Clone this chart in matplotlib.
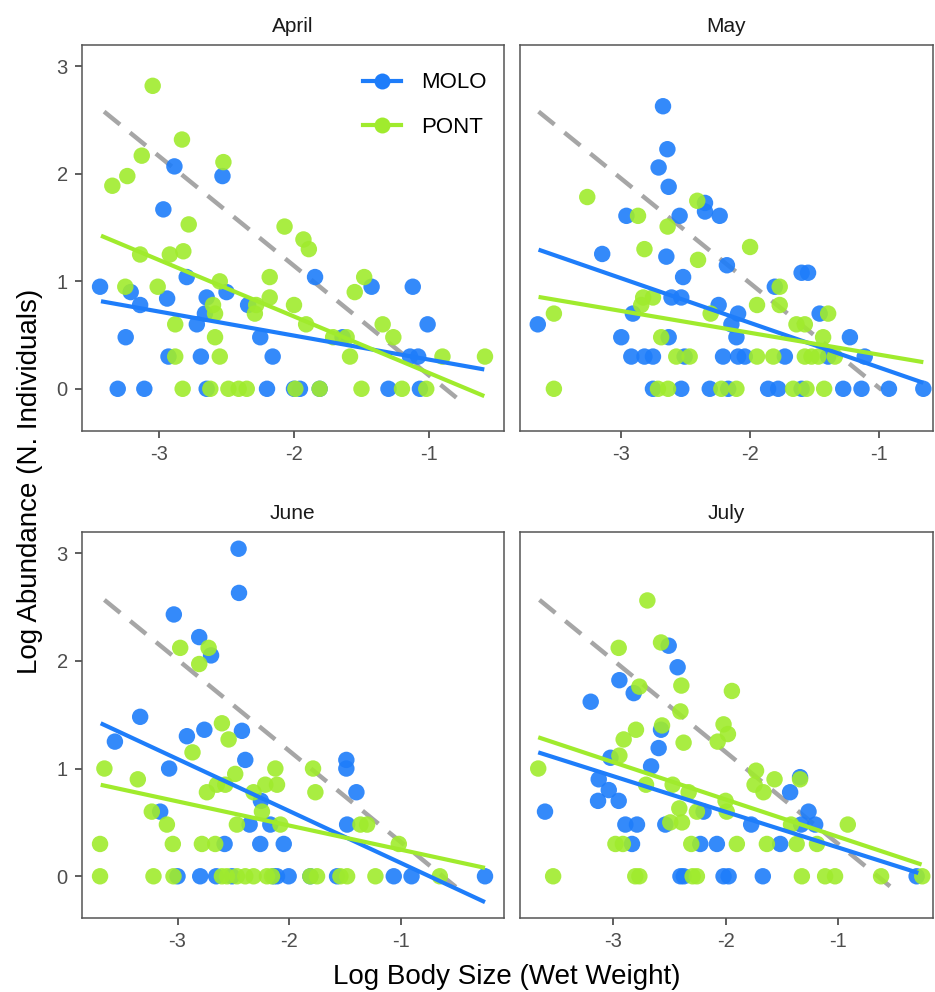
import matplotlib
matplotlib.use("Agg")
import matplotlib.pyplot as plt
from matplotlib.lines import Line2D

plt.rcParams['font.family'] = ['Liberation Sans', 'DejaVu Sans']

months = ["April", "May", "June", "July"]
sites = ["MOLO", "PONT"]
colors = {"MOLO": "#1E7DFA", "PONT": "#A0EB2D"}
ref_color = "#A6A6A6"

# ---------------- data (log body size, log abundance) ----------------
april_molo_x = [-2.886, -2.53, -2.968, -3.437, -3.21, -3.14, -2.94, -2.795, -2.647, -2.66, -2.5, -2.72,
                -3.247, -2.34, -2.25, -1.844, -1.64, -1.425, -1.12, -1.01, -2.93, -2.69, -2.158, -1.14,
                -1.08, -3.306, -3.109, -2.647, -2.2, -2.0, -1.956, -1.81, -1.30, -1.067]
april_molo_y = [2.07, 1.98, 1.67, 0.95, 0.90, 0.78, 0.84, 1.04, 0.85, 0.70, 0.90, 0.60,
                0.48, 0.78, 0.48, 1.04, 0.48, 0.95, 0.95, 0.60, 0.30, 0.30, 0.30, 0.30,
                0.30, 0, 0, 0, 0, 0, 0, 0, 0, 0]
april_pont_x = [-3.047, -3.346, -3.235, -3.128, -2.83, -2.523, -2.78, -3.14, -2.92, -2.82, -3.25, -3.01,
                -2.55, -2.6, -2.585, -2.88, -2.585, -2.88, -2.55, -2.07, -1.93, -1.89, -2.18, -2.18,
                -2.28, -2.29, -2.0, -1.91, -1.71, -1.61, -1.585, -1.48, -1.55, -1.343, -1.264, -0.9,
                -0.585, -2.825, -2.62, -2.486, -2.41, -2.35, -1.99, -1.81, -1.5, -1.2, -1.02]
april_pont_y = [2.82, 1.89, 1.98, 2.17, 2.32, 2.11, 1.53, 1.25, 1.25, 1.28, 0.95, 0.95,
                1.0, 0.78, 0.70, 0.60, 0.48, 0.30, 0.30, 1.51, 1.39, 1.30, 1.04, 0.85,
                0.78, 0.70, 0.78, 0.60, 0.48, 0.48, 0.30, 1.04, 0.90, 0.60, 0.48, 0.30,
                0.30, 0, 0, 0, 0, 0, 0, 0, 0, 0, 0]

may_molo_x = [-2.676, -2.642, -2.71, -2.632, -2.96, -2.547, -2.35, -2.35, -2.236, -3.148, -2.65, -2.52,
              -2.18, -2.61, -2.534, -2.244, -2.093, -2.145, -2.106, -2.91, -3.648, -3.0, -2.632, -1.808,
              -1.6, -1.55, -1.46, -1.225, -1.11, -2.922, -2.82, -2.754, -2.508, -2.21, -2.093, -2.041,
              -1.73, -1.394, -2.754, -2.534, -2.313, -2.17, -1.86, -1.782, -1.60, -1.277, -1.135,
              -0.922, -0.655]
may_molo_y = [2.63, 2.23, 2.06, 1.88, 1.61, 1.61, 1.73, 1.65, 1.61, 1.255, 1.23, 1.04,
              1.15, 0.85, 0.85, 0.78, 0.70, 0.60, 0.48, 0.70, 0.60, 0.48, 0.48, 0.95,
              1.08, 1.08, 0.70, 0.48, 0.30, 0.30, 0.30, 0.30, 0.30, 0.30, 0.30, 0.30,
              0.30, 0.30, 0, 0, 0, 0, 0, 0, 0, 0, 0, 0, 0]
may_pont_x = [-3.264, -2.87, -2.41, -2.64, -2.82, -2.404, -2.0, -2.83, -2.754, -2.845, -3.523, -2.306,
              -1.946, -1.77, -1.77, -1.64, -1.575, -1.433, -1.394, -2.69, -2.573, -2.469, -1.946, -1.82,
              -1.575, -1.523, -1.47, -1.342, -3.523, -2.715, -2.637, -2.223, -2.106, -1.666, -1.562,
              -1.425]
may_pont_y = [1.785, 1.61, 1.75, 1.51, 1.30, 1.20, 1.32, 0.85, 0.85, 0.78, 0.70, 0.70,
              0.78, 0.95, 0.78, 0.60, 0.60, 0.48, 0.70, 0.48, 0.30, 0.30, 0.30, 0.30,
              0.30, 0.30, 0.30, 0.30, 0, 0, 0, 0, 0, 0, 0, 0]

june_molo_x = [-2.454, -2.45, -3.033, -2.806, -2.70, -3.334, -3.56, -2.916, -2.76, -2.424, -2.394, -3.075,
               -2.254, -3.155, -2.355, -2.17, -1.49, -1.49, -1.4, -1.483, -2.579, -2.26, -2.05,
               -3.0, -2.797, -2.654, -2.513, -2.14, -2.11, -2.006, -1.812, -1.573, -1.066, -0.907, -0.25]
june_molo_y = [3.04, 2.63, 2.43, 2.22, 2.05, 1.48, 1.25, 1.30, 1.36, 1.35, 1.08, 1.0,
               0.70, 0.60, 0.48, 0.48, 1.08, 1.0, 0.78, 0.48, 0.30, 0.30, 0.30,
               0, 0, 0, 0, 0, 0, 0, 0, 0, 0, 0, 0]
june_pont_x = [-2.976, -2.722, -2.806, -2.603, -2.543, -2.866, -3.654, -3.355, -2.484, -2.125, -1.788,
               -1.767, -2.737, -2.648, -2.573, -2.32, -2.215, -2.11, -2.245, -3.23, -3.095, -2.469,
               -2.08, -1.364, -1.304, -3.693, -3.042, -2.782, -2.663, -1.021, -3.693, -3.215, -3.036,
               -2.603, -2.558, -2.469, -2.394, -2.32, -2.2, -2.155, -1.812, -1.752, -1.543, -1.483,
               -1.23, -0.654]
june_pont_y = [2.12, 2.12, 1.97, 1.42, 1.27, 1.15, 1.0, 0.90, 0.95, 1.0, 1.0,
               0.78, 0.78, 0.85, 0.85, 0.78, 0.85, 0.85, 0.60, 0.60, 0.48, 0.48,
               0.48, 0.48, 0.48, 0.30, 0.30, 0.30, 0.30, 0.30, 0, 0, 0,
               0, 0, 0, 0, 0, 0, 0, 0, 0, 0, 0, 0, 0]

july_molo_x = [-2.504, -2.425, -2.941, -2.814, -3.195, -2.572, -2.593, -2.66, -3.02, -3.124, -3.035, -3.13,
               -2.947, -3.60, -2.195, -1.773, -1.428, -1.34, -1.265, -1.33, -1.206, -2.888, -2.785,
               -2.534, -2.829, -2.224, -2.077, -1.516, -2.4, -2.37, -2.018, -1.973, -1.67, -0.307]
july_molo_y = [2.14, 1.94, 1.82, 1.70, 1.62, 1.36, 1.19, 1.02, 1.10, 0.90, 0.80, 0.70,
               0.70, 0.60, 0.60, 0.48, 0.78, 0.92, 0.60, 0.48, 0.48, 0.48, 0.48,
               0.48, 0.30, 0.30, 0.30, 0.30, 0, 0, 0, 0, 0, 0]
july_pont_x = [-2.693, -2.947, -2.572, -2.392, -2.764, -2.40, -1.944, -2.018, -1.979, -2.07, -2.372,
               -2.563, -2.794, -2.903, -2.941, -3.66, -2.705, -2.469, -2.327, -2.41, -2.49, -2.386,
               -2.254, -2.0, -1.99, -1.73, -1.743, -1.664, -1.566, -1.34, -1.42, -0.917, -2.976,
               -2.91, -2.304, -1.9, -1.634, -1.37, -1.19, -3.528, -2.8, -2.764, -2.292, -2.254,
               -1.324, -1.118, -1.03, -0.622, -0.257]
july_pont_y = [2.56, 2.12, 2.17, 1.77, 1.76, 1.53, 1.72, 1.41, 1.32, 1.25, 1.24,
               1.40, 1.36, 1.27, 1.12, 1.0, 0.85, 0.85, 0.78, 0.63, 0.50, 0.50,
               0.60, 0.70, 0.60, 0.98, 0.85, 0.78, 0.90, 0.90, 0.48, 0.48, 0.30,
               0.30, 0.30, 0.30, 0.30, 0.30, 0.30, 0, 0, 0, 0, 0,
               0, 0, 0, 0, 0]

points = {
    "April": {"MOLO": (april_molo_x, april_molo_y), "PONT": (april_pont_x, april_pont_y)},
    "May": {"MOLO": (may_molo_x, may_molo_y), "PONT": (may_pont_x, may_pont_y)},
    "June": {"MOLO": (june_molo_x, june_molo_y), "PONT": (june_pont_x, june_pont_y)},
    "July": {"MOLO": (july_molo_x, july_molo_y), "PONT": (july_pont_x, july_pont_y)},
}

# fitted lines: (x_start, x_end, y_start, y_end)
fit_molo = {"April": (-3.43, -0.59, 0.815, 0.18), "May": (-3.642, -0.655, 1.295, 0.056),
            "June": (-3.687, -0.25, 1.42, -0.24), "July": (-3.66, -0.292, 1.15, 0.031)}
fit_pont = {"April": (-3.43, -0.59, 1.425, -0.068), "May": (-3.642, -0.655, 0.855, 0.248),
            "June": (-3.687, -0.25, 0.849, 0.078), "July": (-3.66, -0.263, 1.29, 0.109)}
fit_ref = {"April": (-3.407, -0.795, 2.58, -0.084), "May": (-3.642, -0.979, 2.58, -0.01),
           "June": (-3.654, -0.499, 2.565, -0.109), "July": (-3.649, -0.543, 2.565, -0.093)}

xlims = {"April": (-3.573, -0.444), "May": (-3.79, -0.58),
         "June": (-3.857, -0.08), "July": (-3.826, -0.162)}
ylim = (-0.39, 3.2)
xticks = [-3, -2, -1]
yticks = [0, 1, 2, 3]

# ---------------- figure ----------------
W, H = 935, 992
fig = plt.figure(figsize=(W / 100, H / 100), dpi=100)

def rect(l, t, r, b):
    return [l / W, 1 - b / H, (r - l) / W, (b - t) / H]

boxes = {"April": rect(81.7, 45, 504, 430.7), "May": rect(519.5, 45, 933, 430.7),
         "June": rect(81.7, 531.5, 504, 918.3), "July": rect(519.5, 531.5, 933, 918.3)}

tick_col = "#4D4D4D"
for m in months:
    ax = fig.add_axes(boxes[m])
    xa, xb, ya, yb = fit_ref[m]
    ax.plot([xa, xb], [ya, yb], color=ref_color, lw=3.2, dashes=(4.6, 2.9),
            solid_capstyle='butt', dash_capstyle='butt', zorder=1)
    for s in sites:
        x, y = points[m][s]
        ax.scatter(x, y, s=140, color=colors[s], alpha=0.9, edgecolors='none', zorder=2)
    for s, fits in (("MOLO", fit_molo), ("PONT", fit_pont)):
        xa, xb, ya, yb = fits[m]
        ax.plot([xa, xb], [ya, yb], color=colors[s], lw=3.0, zorder=3, solid_capstyle='butt')
    ax.set_xlim(*xlims[m])
    ax.set_ylim(*ylim)
    ax.set_xticks(xticks)
    ax.set_xticklabels([str(t) for t in xticks])
    ax.tick_params(axis='x', length=5, width=1.1, color="#333333", labelsize=14.5,
                   labelcolor=tick_col, pad=5)
    if m in ("April", "June"):
        ax.set_yticks(yticks)
        ax.tick_params(axis='y', length=5, width=1.1, color="#333333", labelsize=14.5,
                       labelcolor=tick_col, pad=5)
    else:
        ax.set_yticks([])
    for sp in ax.spines.values():
        sp.set_color("#555555")
        sp.set_linewidth(1.1)
    ax.set_title(m, fontsize=15, pad=9, color="#1A1A1A")

    if m == "April":
        handles = [Line2D([0], [0], color=colors[s], lw=3.0, marker='o', markersize=11.5,
                          markeredgewidth=0) for s in sites]
        ax.legend(handles, sites, loc='upper right', bbox_to_anchor=(1.0, 0.975), frameon=False,
                  fontsize=16, labelspacing=1.05, handlelength=1.7, handletextpad=0.9,
                  borderaxespad=0.4)

fig.text(0.5425, 1 - 977 / H, "Log Body Size (Wet Weight)", ha='center', va='center', fontsize=20)
fig.text(30 / W, 1 - 481 / H, "Log Abundance (N. Individuals)", ha='center', va='center',
         rotation=90, fontsize=20)

fig.savefig("out.png", dpi=100)
